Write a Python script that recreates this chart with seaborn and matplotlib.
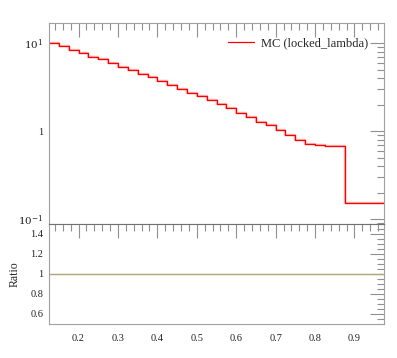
import numpy as np
import pandas as pd
import matplotlib
matplotlib.use('Agg')
import matplotlib.pyplot as plt
import seaborn as sns
from matplotlib.ticker import LogLocator, MultipleLocator, NullFormatter, FixedLocator

# bin edges and histogram values
bin_edges = [0.125, 0.15, 0.175, 0.2, 0.225, 0.25, 0.275, 0.3, 0.325, 0.35, 0.375,
             0.4, 0.425, 0.45, 0.475, 0.5, 0.525, 0.55, 0.575, 0.6, 0.625,
             0.65, 0.675, 0.7, 0.725, 0.75, 0.775, 0.8, 0.825, 0.85, 0.875, 0.975]
mc_values = [10.0, 9.25, 8.45, 7.74, 7.03, 6.56, 5.91, 5.35, 4.91, 4.42,
             4.09, 3.71, 3.37, 3.03, 2.75, 2.48, 2.25, 2.01, 1.81, 1.61,
             1.45, 1.27, 1.16, 1.02, 0.90, 0.79, 0.71, 0.70, 0.68, 0.67, 0.151]
ratio_values = [1.0] * len(mc_values)
legend_label = 'MC (locked_lambda)'
xticks = [0.2, 0.3, 0.4, 0.5, 0.6, 0.7, 0.8, 0.9]
ratio_yticks = [0.6, 0.8, 1.0, 1.2, 1.4]

sns.set_theme(style='white')
plt.rcParams['font.family'] = ['Liberation Serif', 'DejaVu Serif']
plt.rcParams['mathtext.fontset'] = 'dejavuserif'

df = pd.DataFrame({'x': bin_edges, 'y': mc_values + [mc_values[-1]],
                   'r': ratio_values + [ratio_values[-1]]})

fig = plt.figure(figsize=(3.97, 3.58), dpi=100)
ax = fig.add_axes([0.1234, 0.3743, 0.8439, 0.5601])
rax = fig.add_axes([0.1234, 0.095, 0.8439, 0.2793], sharex=ax)

spine_col = '#a0a0a0'
tick_col = '#909090'

# main histogram: light under-line plus red line
sns.lineplot(data=df, x='x', y='y', ax=ax, drawstyle='steps-post', color='#ff7070',
             lw=1.7, alpha=0.5, sort=False, estimator=None)
sns.lineplot(data=df, x='x', y='y', ax=ax, drawstyle='steps-post', color='#ff0000',
             lw=0.9, sort=False, estimator=None, label=legend_label)
ax.set_yscale('log')
ax.set_xlim(0.125, 0.975)
ax.set_ylim(0.0877, 16.8)
ax.set_xlabel('')
ax.set_ylabel('')

leg = ax.legend(loc='upper right', bbox_to_anchor=(0.967, 0.955), frameon=False,
                fontsize=9, handlelength=2.1, borderaxespad=0, handletextpad=0.56)

# ratio panel
sns.lineplot(data=df, x='x', y='r', ax=rax, drawstyle='steps-post', color='#a8a878',
             lw=1.0, sort=False, estimator=None)
rax.set_ylim(0.5, 1.5)
rax.set_xlabel('')
rax.set_ylabel('Ratio', fontsize=8.5)
rax.yaxis.set_label_coords(-0.085, 0.5)
rax.yaxis.set_major_locator(FixedLocator(ratio_yticks))
rax.yaxis.set_minor_locator(MultipleLocator(0.05))
rax.set_yticklabels(['0.6', '0.8', '1', '1.2', '1.4'])

ax.yaxis.set_major_locator(LogLocator(base=10, numticks=10))
ax.yaxis.set_minor_locator(LogLocator(base=10, subs=np.arange(2, 10), numticks=10))
ax.yaxis.set_minor_formatter(NullFormatter())
ax.set_yticks([0.1, 1, 10])
ax.set_yticklabels([r'$10^{-1}$', '1', r'$10^{1}$'])

rax.xaxis.set_major_locator(FixedLocator(xticks))
rax.xaxis.set_minor_locator(MultipleLocator(0.02))
rax.set_xticklabels([str(v) for v in xticks])
plt.setp(ax.get_xticklabels(), visible=False)

for a in (ax, rax):
    a.tick_params(which='both', direction='in', top=True, right=True, color=tick_col,
                  labelsize=7.5, labelcolor='#222222', pad=4)
    a.tick_params(which='major', length=10, width=0.8)
    a.tick_params(which='minor', length=5, width=0.8)
    for s in a.spines.values():
        s.set_color(spine_col)
        s.set_linewidth(0.8)
rax.tick_params(axis='x', pad=7)
ax.spines['bottom'].set_color('#707070')
rax.spines['top'].set_color('#707070')

fig.savefig('out.png', dpi=100)
